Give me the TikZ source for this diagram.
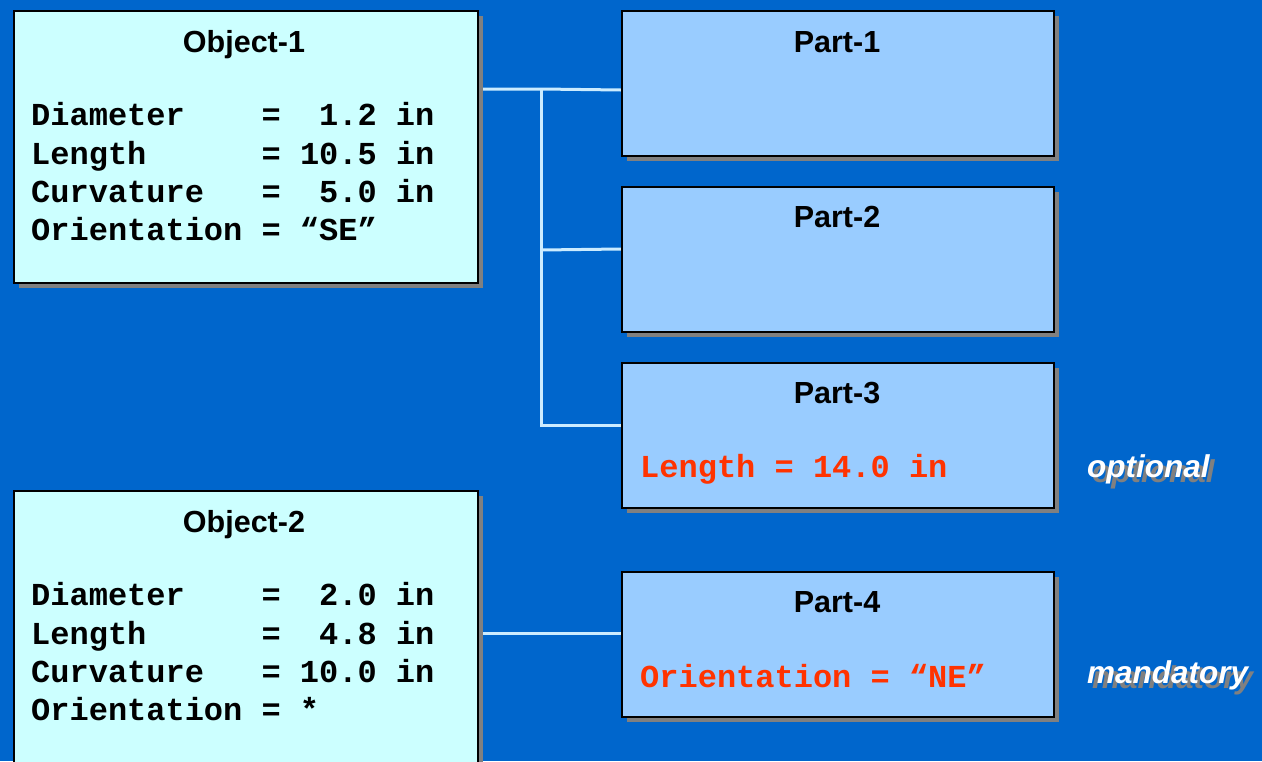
\documentclass[tikz,border=0pt]{standalone}
\usepackage{fontspec}
\setmainfont{Liberation Sans}
\newfontfamily\codefont{Liberation Mono}
\usetikzlibrary{shadows}
\pgfdeclarelayer{backdrop}
\pgfdeclarelayer{links}
\pgfsetlayers{backdrop,links,main}
\definecolor{bgblue}{HTML}{0066CC}
\definecolor{objfill}{HTML}{CCFFFF}
\definecolor{partfill}{HTML}{99CCFF}
\definecolor{linkcol}{HTML}{CCECFF}
\definecolor{shade}{HTML}{808080}
\definecolor{codered}{HTML}{FF3300}
\frenchspacing
\begin{document}
\begin{tikzpicture}[x=1pt,y=-1pt,
  box/.style={draw=black,line width=2pt,rectangle,inner sep=0pt,anchor=north west,
    drop shadow={shadow xshift=5pt,shadow yshift=-5pt,fill=shade,opacity=1}},
  objbox/.style={box,fill=objfill,minimum width=464pt},
  partbox/.style={box,fill=partfill,minimum width=432pt,minimum height=145pt},
  title/.style={anchor=base,inner sep=0pt,font=\fontsize{30.5}{36}\selectfont\bfseries},
  code/.style={anchor=base west,inner sep=0pt,
    font=\fontsize{32}{38.4}\selectfont\codefont\bfseries},
  redcode/.style={code,text=codered},
  link/.style={draw=linkcol,line width=3pt},
  tag/.style={anchor=base west,inner sep=0pt,text=white,
    font=\fontsize{31.5}{36}\selectfont\bfseries\itshape},
  tagshadow/.style={tag,text=shade}]
% backdrop
\begin{pgfonlayer}{backdrop}
\fill[bgblue] (0,0) rectangle (1262,761);
\end{pgfonlayer}
\useasboundingbox (0,0) rectangle (1262,761);

% boxes
\node[objbox,minimum height=272pt] (obj1) at (13,10) {};
\node[objbox,minimum height=290pt] (obj2) at (13,490) {};
\node[partbox] (p1) at (621,10) {};
\node[partbox] (p2) at (621,186) {};
\node[partbox] (p3) at (621,362) {};
\node[partbox] (p4) at (621,571) {};

% titles
\node[title] (t1) at (244,52) {Object-1};
\node[title] (t2) at (244,532) {Object-2};
\node[title] (tp1) at (837,52) {Part-1};
\node[title] (tp2) at (837,227) {Part-2};
\node[title] (tp3) at (837,403) {Part-3};
\node[title] (tp4) at (837,612) {Part-4};

% attribute listings of Object-1
\node[code] (a1) at (31,125.5) {Diameter~~~~=~~1.2~in};
\node[code] (a2) at (31,164)   {Length~~~~~~=~10.5~in};
\node[code] (a3) at (31,202)   {Curvature~~~=~~5.0~in};
\node[code] (a4) at (31,240)   {Orientation~=~“SE”};
% attribute listings of Object-2
\node[code] (b1) at (31,605.5) {Diameter~~~~=~~2.0~in};
\node[code] (b2) at (31,644)   {Length~~~~~~=~~4.8~in};
\node[code] (b3) at (31,682)   {Curvature~~~=~10.0~in};
\node[code] (b4) at (31,720)   {Orientation~=~*};
% part attributes
\node[redcode] (r3) at (640,477) {Length~=~14.0~in};
\node[redcode] (r4) at (640,687) {Orientation~=~“NE”};

% side notes with their shadows
\node[tagshadow] (s1) at (1092,482) {optional};
\node[tag] (n1) at (1087,477) {optional};
\node[tagshadow] (s2) at (1092,688) {mandatory};
\node[tag] (n2) at (1087,683) {mandatory};

% connectors, behind the boxes
\coordinate (jtop) at (541,89);
\coordinate (jmid) at (541,250);
\coordinate (jbot) at (541,425);
\coordinate (jlow) at (541,633);
\begin{pgfonlayer}{links}
\draw[link] (obj1.east |- jtop) -- (jtop) -- (p1.west |- 0,90);
\draw[link,line cap=rect] (jtop) -- (jbot);
\draw[link] (jmid) -- (p2.west |- 0,249);
\draw[link] (jbot) -- (p3.west |- jbot);
\draw[link] (obj2.east |- jlow) -- (p4.west |- jlow);
\end{pgfonlayer}
\end{tikzpicture}
\end{document}
